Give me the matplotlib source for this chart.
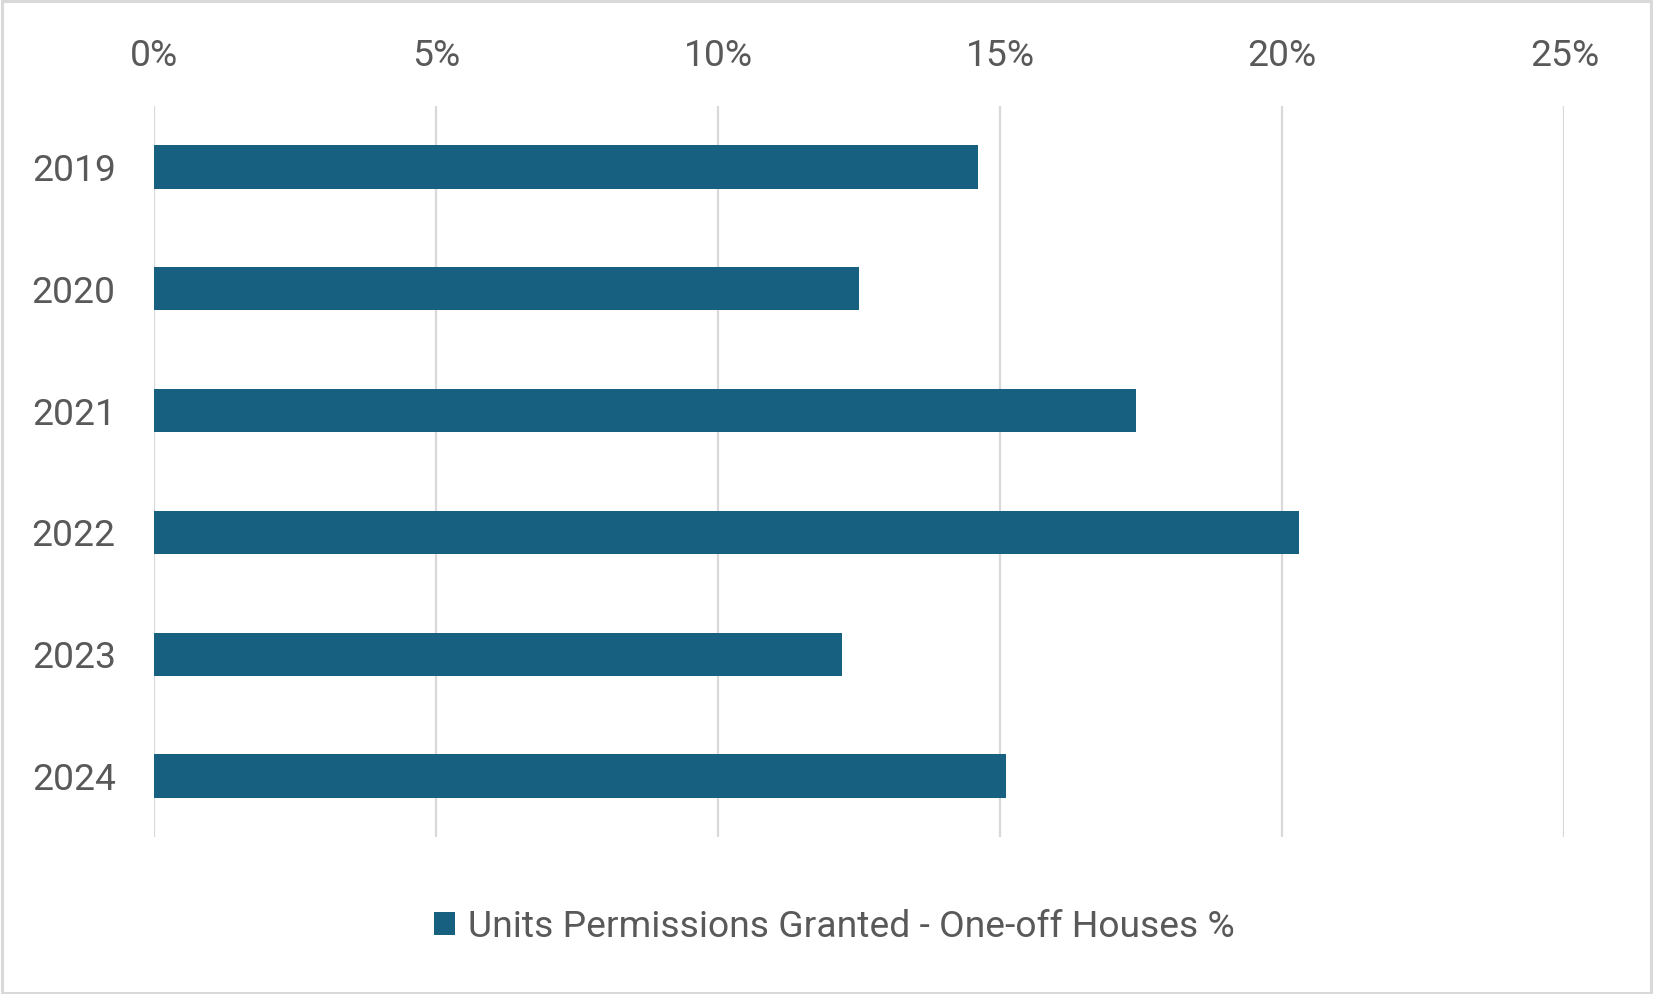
import matplotlib
matplotlib.use("Agg")
import matplotlib.pyplot as plt
from matplotlib.patches import Rectangle, Patch
from matplotlib.ticker import FuncFormatter

years = ["2019", "2020", "2021", "2022", "2023", "2024"]
values = [14.6, 12.5, 17.4, 20.3, 12.2, 15.1]
x_ticks = [0, 5, 10, 15, 20, 25]
series_name = "Units Permissions Granted - One-off Houses %"

bar_color = "#17607F"
text_color = "#595959"
grid_color = "#D9D9D9"

plt.rcParams['font.family'] = ['Roboto', 'DejaVu Sans']

fig = plt.figure(figsize=(16.53, 9.94), dpi=100)
ax = fig.add_axes([0.0931, 0.158, 0.8533, 0.7354])

pos = list(range(len(years)))
ax.barh(pos, values, height=0.356, color=bar_color, zorder=3)

ax.set_xlim(0, 25)
ax.set_ylim(len(years) - 0.5, -0.5)
ax.set_xticks(x_ticks)
ax.xaxis.set_major_formatter(FuncFormatter(lambda v, p: f"{int(v)}%"))
ax.xaxis.tick_top()
ax.set_yticks(pos)
ax.set_yticklabels(years)

ax.tick_params(axis='x', length=0, pad=23, labelsize=26.8, labelcolor=text_color)
ax.tick_params(axis='y', length=0, pad=27.5, labelsize=26.8, labelcolor=text_color)

ax.grid(axis='x', color=grid_color, linewidth=1.6, zorder=0)
ax.grid(axis='y', visible=False)
for s in ax.spines.values():
    s.set_visible(False)

handle = Patch(facecolor=bar_color, edgecolor='none')
leg = fig.legend([handle], [series_name], loc='center',
                 bbox_to_anchor=(0.5048, 0.0679), frameon=False,
                 fontsize=26.8, handlelength=0.58, handleheight=0.58,
                 handletextpad=0.35, labelcolor=text_color)

fig.patches.append(Rectangle((0.001, 0.001), 0.998, 0.998, transform=fig.transFigure,
                             fill=False, edgecolor=grid_color, linewidth=2.2))

fig.savefig("out.png", dpi=100)
